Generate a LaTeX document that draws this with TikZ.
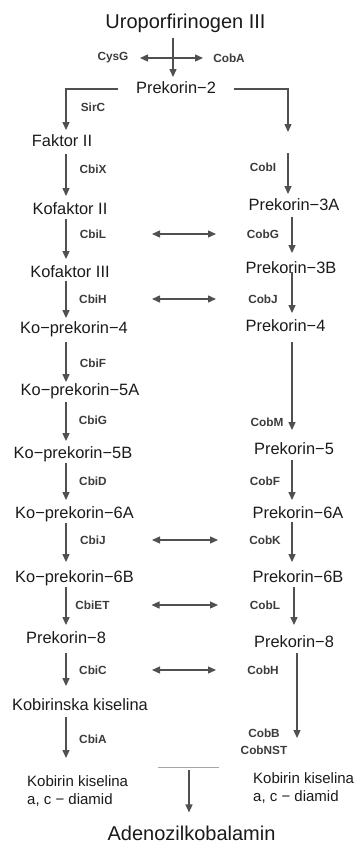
\documentclass[tikz,border=0pt]{standalone}
\usepackage{fontspec}
\setmainfont{Liberation Sans}
\usetikzlibrary{arrows.meta}
\definecolor{linegray}{HTML}{505050}
\definecolor{enzgray}{HTML}{3C3C3C}
\definecolor{txt}{HTML}{1A1A1A}
\tikzset{
  subst/.style={font=\fontsize{16.4}{19}\selectfont, text=txt, inner sep=0pt, text height=12pt, text depth=3.5pt},
  big/.style={font=\fontsize{20}{24}\selectfont, text=txt, inner sep=0pt},
  enz/.style={font=\fontsize{11.8}{13}\selectfont\bfseries, text=enzgray, inner sep=0pt},
  product/.style={font=\fontsize{15}{18}\selectfont, text=txt, inner sep=0pt, align=left, anchor=north west},
  arr/.style={-{Triangle[length=8pt,width=7pt]}, line width=1.3pt, draw=linegray, shorten <=1pt, shorten >=6pt},
  link/.style={{Triangle[length=8pt,width=7pt]}-{Triangle[length=8pt,width=7pt]}, line width=1.3pt, draw=linegray, shorten <=59pt, shorten >=47pt}
}
\begin{document}
\begin{tikzpicture}[x=1pt, y=-1pt]
      \useasboundingbox (0,0) rectangle (356,846);

      \coordinate (tx) at (173,0);
      \coordinate (lcol) at (66,0);
      \coordinate (rcol) at (292,0);
      \coordinate (rtop) at (288,132);
      \coordinate (rmid) at (288,153);
      \coordinate (barl) at (158,767);
      \coordinate (barr) at (219,767);
      \coordinate (barm) at (189,770);

      \node (uro) [big] at (185.5,23) {Uroporfirinogen III};
      \node (cysg) [enz] at (113,58) {CysG};
      \node (coba) [enz] at (229,58) {CobA};
      \node (prek2) [subst] at (176,89) {Prekorin−2};

      \node (sirc) [enz] at (93,107) {SirC};
      \node (faktor2) [subst] at (62,142) {Faktor II};
      \node (cbix) [enz] at (93,169) {CbiX};
      \node (kofaktor2) [subst] at (70,210) {Kofaktor II};
      \node (cbil) [enz] at (93,234) {CbiL};
      \node (kofaktor3) [subst] at (70,273) {Kofaktor III};
      \node (cbih) [enz] at (93,299) {CbiH};
      \node (kopre4) [subst] at (74,329) {Ko−prekorin−4};
      \node (cbif) [enz] at (93,363) {CbiF};
      \node (kopre5a) [subst] at (80,391) {Ko−prekorin−5A};
      \node (cbig) [enz] at (93,420) {CbiG};
      \node (kopre5b) [subst] at (73,454) {Ko−prekorin−5B};
      \node (cbid) [enz] at (93,481) {CbiD};
      \node (kopre6a) [subst] at (74.5,514) {Ko−prekorin−6A};
      \node (cbij) [enz] at (93,540) {CbiJ};
      \node (kopre6b) [subst] at (74.5,578) {Ko−prekorin−6B};
      \node (cbiet) [enz] at (92.5,605) {CbiET};
      \node (pre8l) [subst] at (66,639) {Prekorin−8};
      \node (cbic) [enz] at (93,670) {CbiC};
      \node (kobinska) [subst] at (80,706) {Kobirinska kiselina};
      \node (cbia) [enz] at (93,739) {CbiA};
      \node (kobl) [product] at (27,775) {Kobirin kiselina\\a, c − diamid};

      \node (cobi) [enz] at (263,167) {CobI};
      \node (pre3a) [subst] at (294,206) {Prekorin−3A};
      \node (cobg) [enz] at (263,234) {CobG};
      \node (pre3b) [subst] at (291,269) {Prekorin−3B};
      \node (cobj) [enz] at (263,299) {CobJ};
      \node (pre4) [subst] at (285.5,327) {Prekorin−4};
      \node (cobm) [enz] at (267,422) {CobM};
      \node (pre5) [subst] at (294,450) {Prekorin−5};
      \node (cobf) [enz] at (265,481) {CobF};
      \node (pre6a) [subst] at (298,514) {Prekorin−6A};
      \node (cobk) [enz] at (265,540) {CobK};
      \node (pre6b) [subst] at (298,578) {Prekorin−6B};
      \node (cobl) [enz] at (265,605) {CobL};
      \node (pre8r) [subst] at (294,643) {Prekorin−8};
      \node (cobh) [enz] at (263,670) {CobH};
      \node (cobb) [enz] at (264,733) {CobB};
      \node (cobnst) [enz] at (264,750) {CobNST};
      \node (kobr) [product] at (253,772) {Kobirin kiselina\\a, c − diamid};

      \node (adeno) [big] at (191.5,833) {Adenozilkobalamin};

      \draw [arr, shorten <=5pt, shorten >=4pt] (uro.south -| tx) -- (prek2.north -| tx);
      \draw [link, shorten <=27pt, shorten >=26pt] (cysg.center) -- (coba.center);
      \draw [arr, shorten <=18pt, shorten >=4pt] (prek2.west) -| (faktor2.north -| lcol);
      \draw [arr, shorten <=18pt, shorten >=0pt] (prek2.east) -| (rtop);

      \draw [arr, shorten <=4pt] (faktor2.south -| lcol) -- (kofaktor2.north -| lcol);
      \draw [arr] (kofaktor2.south -| lcol) -- (kofaktor3.north -| lcol);
      \draw [arr, shorten <=0pt, shorten >=3pt] (kofaktor3.south -| lcol) -- (kopre4.north -| lcol);
      \draw [arr, shorten <=5pt, shorten >=1pt] (kopre4.south -| lcol) -- (kopre5a.north -| lcol);
      \draw [arr, shorten <=3pt, shorten >=5pt] (kopre5a.south -| lcol) -- (kopre5b.north -| lcol);
      \draw [arr] (kopre5b.south -| lcol) -- (kopre6a.north -| lcol);
      \draw [arr, shorten >=8pt] (kopre6a.south -| lcol) -- (kopre6b.north -| lcol);
      \draw [arr] (kopre6b.south -| lcol) -- (pre8l.north -| lcol);
      \draw [arr, shorten <=6pt, shorten >=12pt] (pre8l.south -| lcol) -- (kobinska.north -| lcol);
      \draw [arr, shorten <=3pt, shorten >=17pt] (kobinska.south -| lcol) -- (kobl.north -| lcol);

      \draw [arr, shorten <=0pt, shorten >=4pt] (rmid) -- (pre3a.north -| rmid);
      \draw [arr, shorten <=3pt, shorten >=8pt] (pre3a.south -| rcol) -- (pre3b.north -| rcol);
      \draw [arr, shorten <=-5pt] (pre3b.south -| rcol) -- (pre4.north -| rcol);
      \draw [arr, shorten <=7pt, shorten >=12pt] (pre4.south -| rcol) -- (pre5.north -| rcol);
      \draw [arr, shorten <=2pt] (pre5.south -| rcol) -- (pre6a.north -| rcol);
      \draw [arr, shorten <=0pt, shorten >=8pt] (pre6a.south -| rcol) -- (pre6b.north -| rcol);
      \draw [arr, shorten >=10pt] ([xshift=2pt]pre6b.south -| rcol) -- ([xshift=2pt]pre8r.north -| rcol);
      \draw [arr, shorten <=2pt, shorten >=34pt] ([xshift=5pt]pre8r.south -| rcol) -- ([xshift=5pt]kobr.north -| rcol);

      \draw [link] (cbil.center) -- (cobg.center);
      \draw [link] (cbih.center) -- (cobj.center);
      \draw [link] (cbij.center) -- (cobk.center);
      \draw [link] (cbiet.center) -- (cobl.center);
      \draw [link] (cbic.center) -- (cobh.center);

      \draw [line width=1pt, draw=gray!70] (barl) -- (barr);
      \draw [arr, shorten <=0pt, shorten >=13pt] (barm) -- (adeno.north -| barm);
    \end{tikzpicture}
\end{document}
